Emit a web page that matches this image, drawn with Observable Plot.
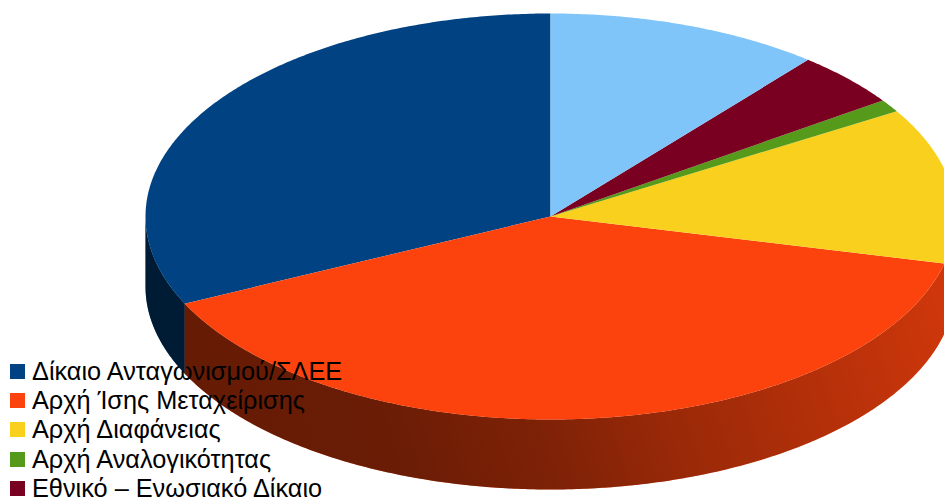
<!DOCTYPE html>
<html>
<head>
<meta charset="utf-8">
<script src="https://cdn.jsdelivr.net/npm/d3@7"></script>
<script src="https://cdn.jsdelivr.net/npm/@observablehq/plot@0.6"></script>
<style>
html,body{margin:0;padding:0;background:#fff;width:944px;height:498px;overflow:hidden}
#wrap{position:relative;width:944px;height:498px;overflow:hidden}
#wrap svg{position:absolute;left:0;top:0}
.leg{position:absolute;left:0;top:0;font-family:"Liberation Sans",Arial,sans-serif;font-size:25.3px;color:#000}
.row{position:absolute;left:32px;white-space:nowrap;line-height:26px;height:26px}
.sw{position:absolute;left:-22px;top:6px;width:15px;height:15px}
</style>
</head>
<body>
<div id="wrap"></div>
<script>
const labels = ["Δίκαιο Ανταγωνισμού/ΣΛΕΕ","Αρχή Ίσης Μεταχείρισης","Αρχή Διαφάνειας","Αρχή Αναλογικότητας","Εθνικό – Ενωσιακό Δίκαιο"];
const values = [32.06, 39.22, 12.40, 1.01, 4.34, 10.97];
const colors = ["#004282","#fc430d","#fad01e","#559a1b","#7a0021","#80c5fa"];
const depth = 70 / 203;

// angles run counter-clockwise from the top, in legend order
const total = d3.sum(values);
const slices = [];
let acc = 0;
values.forEach((v, i) => {
  const a0 = acc / total * 360; acc += v;
  slices.push({i, a0, a1: acc / total * 360, color: colors[i]});
});
const px = a => -Math.sin(a * Math.PI / 180);
const py = a => Math.cos(a * Math.PI / 180);
const arcSteps = (a0, a1) => {
  const n = Math.max(2, Math.ceil((a1 - a0) / 0.5));
  return d3.range(n + 1).map(k => a0 + (a1 - a0) * k / n);
};
const faces = slices.flatMap(s => [
  {z: s.i, color: s.color, x: 0, y: 0},
  ...arcSteps(s.a0, s.a1).map(a => ({z: s.i, color: s.color, x: px(a), y: py(a)}))
]);
const wallOf = (a0, a1, z, color) => {
  const as = arcSteps(a0, a1);
  return [
    ...as.map(a => ({z, color, x: px(a), y: py(a)})),
    ...as.slice().reverse().map(a => ({z, color, x: px(a), y: py(a) - depth}))
  ];
};
// visible front wall: counter-clockwise angles 90..270
const walls = slices.flatMap(s => {
  const a0 = Math.max(s.a0, 90), a1 = Math.min(s.a1, 270);
  return a1 > a0 ? wallOf(a0, a1, s.i, s.color) : [];
});
const shadeWall = wallOf(90, 270, "shade", "#000");

const defs = () => {
  const d = d3.create("svg:defs");
  const g = d.append("linearGradient").attr("id", "wallshade")
    .attr("gradientUnits", "userSpaceOnUse")
    .attr("x1", 200).attr("x2", 930).attr("y1", 500).attr("y2", 260);
  [[0, .6], [.25, .58], [.45, .5], [.6, .4], [.78, .3], [1, .18]].forEach(([o, a]) =>
    g.append("stop").attr("offset", o).attr("stop-color", "#000").attr("stop-opacity", a));
  return d.node();
};

const chart = Plot.plot({
  width: 944, height: 498,
  margin: 0,
  x: {domain: [-1, 1], range: [145, 955], axis: null},
  y: {domain: [-1, 1], range: [419, 13], axis: null},
  style: {background: "transparent"},
  marks: [
    defs,
    Plot.line(walls, {x: "x", y: "y", z: "z", fill: d => d.color, stroke: "none"}),
    Plot.line(shadeWall, {x: "x", y: "y", z: "z", fill: "url(#wallshade)", stroke: "none"}),
    Plot.line(faces, {x: "x", y: "y", z: "z", fill: d => d.color, stroke: "none"})
  ]
});
const wrap = document.getElementById("wrap");
wrap.appendChild(chart);

const leg = document.createElement("div");
leg.className = "leg";
labels.forEach((t, i) => {
  const r = document.createElement("div");
  r.className = "row";
  r.style.top = (358 + i * 29.2) + "px";
  r.textContent = t;
  const s = document.createElement("span");
  s.className = "sw";
  s.style.background = colors[i];
  r.appendChild(s);
  leg.appendChild(r);
});
wrap.appendChild(leg);
</script>
</body>
</html>
